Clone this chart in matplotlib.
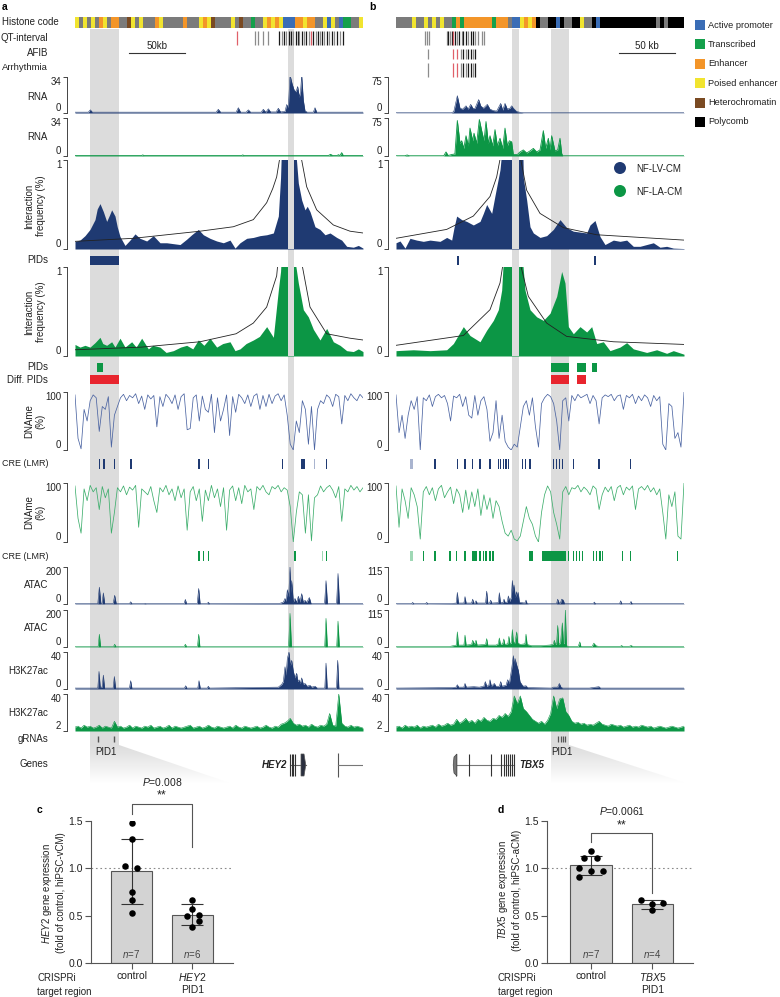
import numpy as np
import matplotlib
matplotlib.use("Agg")
import matplotlib.pyplot as plt
from matplotlib.patches import Polygon, Rectangle, Circle

plt.rcParams['font.family'] = ['Liberation Sans', 'DejaVu Sans']
plt.rcParams['mathtext.fontset'] = 'custom'
plt.rcParams['mathtext.it'] = 'Liberation Sans:italic'
plt.rcParams['mathtext.bf'] = 'Liberation Sans:bold:italic'
plt.rcParams['mathtext.rm'] = 'Liberation Sans'
plt.rcParams['font.size'] = 7

# ----------------------------------------------------------------- DATA
SPAN = 259.2   # kb shown per locus

HIST_L = "YgYgYgOYgO" "OggHYgYggg" "OYgggggOgg" "gYOYHggggY" "gHggTggYOY" "OYPPPOOYOO" "ggYPYgPTTggY"
HIST_R = "ggggYggYgY" "gYggTOTOOO" "OOOOTOOOgP" "PYOYOkggkk" "PkggkkYggk" "Pkkkkkkkkk" "kkkkkgkgkkkk"
STATE_NAMES = ['Active promoter', 'Transcribed', 'Enhancer', 'Poised enhancer', 'Heterochromatin', 'Polycomb']
STATE_KEYS = ['P', 'T', 'O', 'Y', 'H', 'k']

QT_L = [(145.8, 'r'), (162, 'g'), (165, 'g'), (169.5, 'g'), (173.4, 'g'), (183.9, 'k'), (186, 'g'), (188.1, 'k'),
        (189.9, 'g'), (192.3, 'k'), (194.1, 'k'), (196.5, 'g'), (198.6, 'k'), (200.4, 'k'), (201.9, 'g'), (204, 'k'),
        (206.1, 'g'), (207.9, 'k'), (210.3, 'g'), (212.4, 'r'), (214.5, 'k'), (216.6, 'g'), (218.4, 'k'), (220.5, 'g'),
        (222.6, 'k'), (224.4, 'g'), (226.5, 'k'), (228.9, 'g'), (231, 'k'), (233.4, 'g'), (235.5, 'k'), (238.5, 'g'),
        (240.9, 'k')]
QT_R = [(26.1, 'g'), (27.6, 'g'), (29.4, 'g'), (45.6, 'g'), (47.1, 'k'), (48.6, 'g'), (50.1, 'k'), (51.6, 'r'),
        (53.1, 'k'), (55.2, 'g'), (57, 'k'), (59.1, 'g'), (60.6, 'k'), (63, 'k'), (65.1, 'g'), (67.2, 'k'),
        (69.6, 'k'), (71.1, 'g'), (74.1, 'g'), (77.1, 'g'), (79.2, 'g')]
AFIB_R = [(28.5, 'g'), (51.6, 'r'), (55.2, 'r'), (58.5, 'g'), (60.6, 'k'), (63, 'g'), (65.1, 'k'), (67.2, 'k'),
          (69.6, 'g'), (71.1, 'k')]
ARR_R = [(28.5, 'g'), (51.6, 'r'), (55.2, 'r'), (58.5, 'g'), (60.6, 'k'), (63, 'g'), (65.1, 'k'), (67.2, 'k'),
         (69.6, 'g'), (71.1, 'k')]

# highlighted regions (kb)
PID1_L = (13.5, 39.6)
VIEW_L = (191.7, 196.8)
PID1_R = (139.5, 155.7)
VIEW_R = (104.4, 110.7)

RNA_LV_L = [(0, .8), (12, .8), (13.8, 3), (15.6, .8), (127, .8), (129, 3.5), (131, .8), (145, .8), (147, 5), (149, .8),
            (154, .8), (156, 3), (158, .8), (167.5, .8), (169.5, 3.5), (171.5, 1), (172, 1), (174, 4), (176, 1),
            (181, 1), (183, 4.5), (185, 1), (189, 1.5), (190.5, 8), (192, 5), (193.5, 36), (195.3, 28), (197.1, 22),
            (198.9, 20), (200.4, 25), (201.9, 15), (203, 20), (204, 36), (205.5, 12), (207, 2), (209, .8),
            (214.5, .8), (216, 5), (217.5, .8), (259.2, .8)]
RNA_LA_L = [(0, .4), (60, .4), (61, 1), (62, .4), (150, .4), (151, 1), (152, .4), (228, .4), (230, 1.5), (232, .4),
            (236, .4), (237, 1.2), (238.5, .4), (240, 3), (241.5, .4), (259.2, .4)]
RNA_LV_R = [(0, .5), (50, .5), (52, 3), (55.2, 36), (57.6, 10), (60, 8), (63, 15), (65, 8), (67.2, 18), (69.5, 9),
            (71.1, 10), (74.4, 28), (76.2, 15), (78.6, 10), (82.2, 18), (84.6, 8), (87.6, 5), (90.6, 4), (94.2, 20),
            (96, 6), (98.1, 20), (100.2, 8), (102.5, 10), (104.1, 15), (105.6, 10), (108.6, 3), (111.6, 1.5),
            (114.6, .5), (259.2, .5)]
RNA_LA_R = [(0, .5), (8, .5), (10, 2), (12, .5), (43, .5), (45, 8), (47, 1), (50.1, 3), (53, 4), (55.2, 70),
            (57.6, 25), (59.1, 30), (61, 15), (63, 40), (65.1, 20), (66.6, 55), (69, 30), (70.2, 45), (72.6, 25),
            (75, 72), (77.1, 50), (79.2, 30), (81, 68), (83.1, 25), (84.6, 40), (87, 20), (89.1, 52), (91.2, 20),
            (93.6, 35), (96, 15), (98.1, 55), (100.2, 20), (102, 30), (104.1, 28), (105.6, 3), (109.2, 3),
            (111.6, 8), (114.6, 12), (117.6, 6), (120.6, 10), (123.6, 15), (126.6, 8), (129.6, 12), (132.6, 50),
            (134.7, 15), (137.1, 35), (138.6, 12), (140.1, 40), (143.1, 10), (145.5, 12), (147.6, 35), (149.1, 5),
            (150, .5), (259.2, .5)]

INT_LV_L = [(0, .086), (4.5, .10), (9, .15), (13.5, .22), (18, .33), (20, .45), (22.5, .51), (25.5, .42), (28.5, .31),
            (31, .38), (33, .44), (36, .37), (38, .25), (40.5, .14), (45, .04), (49.5, .10), (54, .17), (58.5, .12),
            (64.5, .09), (70.5, .15), (76.5, .07), (82.5, .07), (88.5, .06), (94.5, .05), (100.5, .11), (105, .16),
            (111, .22), (115.5, .16), (121.5, .12), (127.5, .09), (133.5, .07), (139.5, .10), (144, .01),
            (148.5, .07), (154.5, .12), (160.5, .13), (166.5, .15), (172.5, .16), (178.5, .18), (183, .37),
            (185, .8), (186, 1.2), (198, 1.2), (201, .74), (204, .55), (207, .44), (209, .48), (211.5, .42),
            (216, .25), (220.5, .22), (225, .16), (229.5, .18), (235.5, .13), (240, .10), (244.5, .03),
            (250.5, .02), (255, .04), (259.2, .01)]
EXP_LV_L = [(0, .086), (52.5, .12), (112.5, .2), (142.5, .25), (160.5, .33), (172.5, .52), (178, .68), (181.5, .81),
            (184, 1.0), (185.5, 1.3), (np.nan, np.nan), (201, 1.3), (204, 1.0), (208.5, .7), (217.5, .44),
            (232.5, .27), (247.5, .2), (259.2, .18)]
INT_LA_L = [(0, .13), (4.5, .10), (9, .12), (13.5, .10), (18, .15), (22.5, .21), (25, .14), (28.5, .12), (33, .16),
            (36, .1), (40.5, .20), (45, .10), (51, .16), (55, .1), (60, .20), (66, .08), (70, .12), (76.5, .10),
            (82, .04), (88.5, .06), (95, .1), (100.5, .12), (106, .08), (111, .18), (116, .12), (121.5, .20),
            (127.5, .10), (133, .14), (139.5, .16), (144, .06), (148.5, .08), (154, .14), (160.5, .18), (166, .22),
            (172.5, .33), (178.5, .21), (183, .74), (185, .95), (186, 1.2), (196.5, 1.2), (201, .82), (205.5, .52),
            (210, .44), (214.5, .30), (220.5, .18), (226.5, .31), (232.5, .16), (238.5, .12), (244.5, .06),
            (250.5, .05), (255, .08), (259.2, .05)]
EXP_LA_L = [(0, .07), (60, .1), (112.5, .16), (145, .25), (160.5, .37), (172.5, .55), (181.5, .9), (184.5, 1.3),
            (np.nan, np.nan), (201.5, 1.3), (204, 1.05), (211.5, .55), (226.5, .25), (247.5, .2), (259.2, .18)]
INT_LV_R = [(0, .07), (3.6, .09), (8.1, .01), (12.6, .12), (18.6, .10), (24.6, .086), (30.6, .10), (39.6, .086),
            (45.6, .13), (50.1, .10), (52.2, .24), (54.6, .37), (59.1, .33), (63.6, .31), (69.6, .27), (75.6, .31),
            (78.6, .40), (81.6, .50), (86.1, .40), (89.1, .60), (93.6, .89), (96, 1.2), (114, 1.2), (114.6, .80),
            (117.6, .55), (120.6, .25), (123.6, .18), (129.6, .13), (135.6, .15), (141.6, .22), (147.6, .33),
            (153.6, .24), (159.6, .20), (165.6, .19), (171.6, .18), (174.6, .27), (179.1, .32), (183.6, .14),
            (188.1, .05), (195.6, .10), (201.6, .086), (207.6, .10), (213.6, .03), (219.6, .03), (225.6, .05),
            (231.6, .07), (237.6, .02), (243.6, .03), (249.6, .01), (259.2, .005)]
EXP_LV_R = [(0, .12), (45.6, .22), (69.6, .37), (84.6, .59), (90.6, .81), (93.5, 1.0), (95, 1.3), (np.nan, np.nan),
            (110, 1.3), (111.6, 1.05), (117.6, .66), (129.6, .4), (150.6, .24), (180.6, .16), (259.2, .1)]
INT_LA_R = [(0, .06), (15.6, .07), (30.6, .06), (45.6, .07), (51.6, .14), (60.6, .33), (66.6, .23), (75.6, .16),
            (81.6, .29), (87.6, .40), (92.1, .52), (95.1, .74), (97.2, 1.2), (113, 1.2), (116.1, .74), (120.6, .52),
            (126.6, .44), (132.6, .40), (138.6, .48), (144.6, .67), (149.1, .95), (152.1, .82), (155.1, .33),
            (159.6, .25), (165.6, .33), (171.6, .27), (176.1, .33), (180.6, .14), (186.6, .16), (192.6, .06),
            (201.6, .10), (207.6, .15), (213.6, .08), (225.6, .04), (234.6, .07), (243.6, .03), (249.6, .06),
            (259.2, .02)]
EXP_LA_R = [(0, .12), (60.6, .23), (84.6, .52), (93.6, .82), (96.5, 1.05), (98, 1.3), (np.nan, np.nan), (110, 1.3),
            (111.6, 1.05), (119.1, .67), (135.6, .37), (153.6, .22), (195.6, .16), (259.2, .13)]

PID_LV_L = [(13.5, 26.1)]
PID_LA_L = [(19.8, 5.4)]
DIFF_L = [(13.5, 26.1)]
PID_LV_R = [(54.9, 1.4), (178, 2.2)]
PID_LA_R = [(139.5, 16.5), (163, 8), (176.4, 4.6)]
DIFF_R = [(139.5, 16.5), (163, 8)]

DNAME_LV_L = [95, 20, 2, 70, 50, 85, 95, 90, 32, 75, 70, 92, 5, 60, 75, 90, 96, 85, 94, 90, 97, 80, 93, 70, 95, 88, 94,
              40, 92, 75, 96, 90, 80, 95, 70, 92, 97, 35, 37, 90, 95, 50, 93, 70, 65, 96, 30, 90, 50, 70, 95, 25, 92,
              65, 96, 90, 80, 95, 75, 93, 97, 70, 94, 75, 96, 80, 93, 97, 85, 95, 60, 10, 0, 50, 30, 85, 70, 10, 75,
              0, 70, 85, 80, 95, 90, 75, 96, 92, 45, 94, 85, 97, 90, 85, 96, 90]
DNAME_LA_L = [95, 40, 15, 90, 70, 96, 85, 92, 55, 94, 75, 90, 15, 50, 92, 85, 95, 80, 93, 88, 96, 25, 90, 85, 80, 94,
              70, 50, 92, 85, 96, 80, 90, 70, 95, 75, 90, 20, 85, 94, 70, 90, 35, 88, 70, 96, 75, 90, 60, 92, 20, 88,
              95, 70, 92, 65, 96, 85, 90, 55, 94, 88, 96, 85, 80, 94, 90, 96, 85, 92, 88, 60, 0, 50, 85, 80, 15, 80,
              2, 75, 80, 95, 85, 92, 96, 88, 75, 94, 35, 90, 85, 96, 88, 94, 85, 92]
DNAME_LV_R = [95, 30, 60, 20, 60, 85, 70, 92, 0, 90, 85, 95, 75, 92, 96, 90, 94, 80, 50, 93, 90, 96, 75, 92, 60, 55,
              94, 60, 85, 92, 70, 15, 30, 85, 20, 60, 15, 5, 0, 10, 5, 40, 75, 85, 60, 90, 40, 5, 80, 90, 96, 92, 80,
              50, 0, 85, 90, 50, 94, 85, 96, 90, 93, 96, 80, 94, 85, 45, 90, 95, 92, 96, 85, 93, 95, 70, 94, 90, 96,
              80, 93, 85, 95, 90, 75, 94, 85, 92, 10, 0, 80, 75, 20, 30, 5, 100]
DNAME_LA_R = [95, 25, 90, 70, 40, 92, 80, 60, 5, 85, 94, 80, 92, 70, 90, 96, 75, 85, 93, 65, 90, 80, 50, 88, 55, 85,
              60, 90, 45, 80, 55, 75, 40, 70, 60, 35, 15, 10, 20, 5, 2, 10, 35, 60, 40, 30, 10, 0, 50, 80, 95, 85, 50,
              30, 5, 85, 94, 80, 92, 90, 96, 85, 93, 88, 80, 95, 90, 55, 80, 93, 85, 94, 70, 92, 96, 80, 93, 88, 95,
              55, 90, 94, 88, 96, 85, 92, 80, 90, 50, 5, 80, 60, 85, 10, 5, 100]

CRE_LV_L = [(21.9, 1.2), (26.1, 1.2), (35.7, 1.2), (50.4, 1.2), (111.6, 1.2), (120, 1.2), (186.6, 1.2), (204.9, 3.5),
            (226.5, 1.2)]
CRE_LV_L_FAINT = [(215.4, 1.2)]
CRE_LA_L = [(111.6, 1.2), (115.5, 1.2), (120, 1.2), (198, 1.2), (226.5, 1.2)]
CRE_LA_L_FAINT = [(222.6, 1.2)]
CRE_LV_R = [(35.1, 1.2), (55.5, 1.2), (62.1, 2.2), (69, 1.2), (75.6, 1.2), (84.6, 1.2), (92.1, 1.2), (94.2, 1.2),
            (96.6, 1.2), (99, 1.2), (101.1, 1.2), (114, 1.2), (116.7, 1.2), (120.6, 1.2), (141.6, 1.2), (144.6, 1.2),
            (147, 1.2), (150, 1.2), (159.6, 1.2), (182.7, 2.5), (211.2, 1.2)]
CRE_LV_R_FAINT = [(14.1, 3)]
CRE_LA_R = [(24.6, 1.2), (35.1, 1.2), (48.6, 1.2), (54.6, 1.2), (62.1, 2), (70.35, 4.5), (75.6, 1.2), (78.6, 1.2),
            (81, 1.2), (84.6, 1.2), (87, 2), (121.5, 3), (142, 22), (155.1, 1.2), (159.6, 1.2), (162.6, 1.2),
            (165, 1.2), (168, 1.2), (177.6, 1.2), (180.6, 1.2), (183.6, 1.2), (186, 1.2), (204, 1.2), (211.2, 1.2),
            (253.2, 1.2)]
CRE_LA_R_FAINT = [(14.1, 3)]

ATAC_LV_L = [(0, 2), (20.5, 2), (21.9, 91), (23.3, 2), (24.3, 2), (25.5, 60), (26.7, 2), (34.3, 2), (35.7, 47),
             (37.1, 2), (49, 2), (50.1, 12), (51.2, 2), (62, 2), (63, 4), (64, 2), (98.2, 2), (99.3, 25), (100.4, 2),
             (110, 2), (111.3, 84), (112.6, 2), (119, 2), (120, 10), (121, 2), (184, 3), (187.5, 10), (189, 30),
             (190, 15), (191.1, 77), (192.3, 40), (193.5, 200), (194.5, 60), (195, 126), (196.5, 10), (198, 30),
             (199.5, 8), (201, 42), (202.5, 10), (204, 56), (205.5, 8), (207, 20), (208.5, 8), (210.9, 35),
             (212.5, 2), (224.6, 2), (225.9, 126), (227.2, 2), (235.4, 2), (236.7, 165), (238, 2), (259.2, 2)]
ATAC_LA_L = [(0, 2), (20.8, 2), (21.9, 69), (23, 2), (34.6, 2), (35.7, 15), (36.8, 2), (98.2, 2), (99.3, 15),
             (100.4, 2), (110.2, 2), (111.3, 69), (112.4, 2), (192.2, 2), (193.5, 182), (194.8, 2), (224.7, 2),
             (225.9, 155), (227.1, 2), (235.5, 2), (236.7, 140), (237.9, 2), (259.2, 2)]
ATAC_LV_R = [(0, 1), (14, 1), (15, 5), (16, 1), (26.6, 1), (27.6, 5), (28.6, 1), (50, 1.5), (54.2, 3), (55.2, 36),
             (56.2, 3), (61.1, 3), (62.1, 23), (63.1, 3), (68, 3), (69, 15), (70, 3), (71, 3), (72, 10), (73, 3),
             (80.6, 3), (81.6, 40), (82.6, 3), (84.2, 3), (85.2, 12), (86.2, 3), (92, 4), (93, 35), (94, 4), (96.2, 4),
             (97.2, 15), (98.2, 5), (100.1, 6), (101.1, 25), (102.4, 8), (103.7, 20), (104.7, 73), (105.5, 40),
             (106.2, 59), (107.4, 20), (108.6, 38), (109.3, 20), (110, 36), (111, 5), (116, 3), (117, 12),
             (118, 1.5), (120, 1), (144.5, 1), (145.5, 15), (146.8, 3), (148, 3), (149.1, 15), (150.6, 12),
             (151.6, 1), (177.5, 1), (178.5, 6), (179.5, 1), (201.2, 1), (202.2, 10), (203.2, 1), (210.5, 1),
             (211.5, 8), (212.5, 1), (259.2, 1)]
ATAC_LA_R = [(0, 1.5), (48, 1.5), (54.2, 6), (55.2, 47), (56.2, 6), (61.1, 6), (62.1, 37), (63.1, 6), (68, 8),
             (69, 21), (70.5, 8), (72, 21), (73, 6), (80.6, 8), (81.6, 26), (82.6, 6), (90, 6), (92, 10), (93, 28),
             (94, 8), (96, 10), (97, 25), (98, 8), (100.6, 10), (101.6, 33), (102.6, 10), (103.7, 12), (104.7, 54),
             (105.6, 15), (107, 12), (108.6, 47), (109.6, 12), (112, 8), (116, 10), (117, 40), (118, 8), (122, 4),
             (130, 4), (138, 6), (141.5, 8), (142.5, 21), (143.5, 8), (144.5, 10), (145.5, 67), (146.5, 8), (148, 12),
             (149.7, 75), (150.7, 10), (151.6, 12), (152.4, 115), (153.4, 4), (155, 2), (164, 2), (165.4, 16),
             (166.4, 2), (176.5, 2), (178, 12), (180, 4), (182, 2), (202, 2), (203, 5), (204, 2), (210, 2),
             (211.5, 5), (213, 2), (259.2, 1.5)]

K27_LV_L = [(0, 1), (20.5, 1), (21.6, 19), (22.7, 2), (24.4, 2), (25.5, 15), (26.6, 1), (34.3, 1), (35.4, 13.5),
            (36.5, 1), (49, 1), (50.1, 9), (51.2, 1), (98.5, 1), (99.6, 3.5), (100.7, 1), (110.5, 1), (111.6, 9),
            (112.7, 1), (119, 1), (120, 3), (121, 1), (183, 2), (186, 5), (187.5, 8), (189, 24), (190, 15),
            (191.1, 33), (192.6, 40), (193.8, 25), (195, 31), (196.5, 19), (198, 12), (199.5, 17), (200.5, 8),
            (201.6, 10), (202.8, 6), (204, 12), (205.5, 5), (207, 6), (209, 3), (211.5, 4), (213, 2), (216, 3),
            (218, 1), (224.8, 1), (225.9, 28), (227, 1), (235.3, 1), (236.4, 31), (237.5, 1), (259.2, 1)]
K27_LV_R = [(0, 1), (50, 1.5), (54, 2), (55.2, 4.6), (56.4, 2), (61, 2), (62.1, 6), (63.3, 2), (70, 2.5), (75, 2),
            (79, 3), (80.4, 8), (81.6, 3), (83.5, 4), (84.6, 10), (85.8, 3), (88.5, 6), (90, 3), (93, 3), (94.2, 8),
            (95.4, 3), (99, 4), (100.5, 10), (102, 6), (104.1, 22), (105.6, 36), (106.5, 25), (107.1, 33),
            (108.6, 26), (110.1, 20), (111.6, 8), (113.1, 5), (114.6, 3), (117, 3.5), (118.5, 1.5), (140, 1),
            (141.6, 2), (145.5, 2), (147, 6), (148.5, 2), (150, 1), (174, 1), (182.7, 2.5), (184, 1), (259.2, 1)]
K27_LA_L = [6, 7, 5, 8, 6, 7, 5, 6, 8, 5, 7, 6, 5, 12, 6, 7, 5, 6, 8, 5, 7, 6, 5, 7, 6, 8, 5, 6, 7, 5, 6, 8, 5, 7, 6,
            5, 6, 7, 8, 5, 6, 7, 5, 6, 8, 6, 5, 7, 6, 5, 6, 7, 5, 8, 6, 5, 7, 6, 5, 6, 7, 5, 6, 8, 6, 5, 7, 6, 9, 10,
            12, 15, 10, 8, 9, 7, 8, 6, 9, 7, 6, 8, 7, 9, 20, 8, 7, 40, 10, 7, 6, 8, 6, 7, 6, 5]
K27_LA_R = [6, 7, 5, 8, 6, 7, 6, 8, 5, 7, 6, 7, 8, 6, 9, 7, 8, 10, 8, 9, 14, 10, 12, 15, 11, 13, 10, 14, 12, 16, 13,
            12, 15, 14, 18, 16, 20, 17, 22, 38, 30, 38, 25, 22, 18, 14, 12, 10, 12, 9, 13, 20, 38, 25, 35, 36, 22,
            18, 12, 10, 11, 9, 10, 8, 9, 8, 10, 12, 9, 8, 7, 9, 8, 7, 8, 6, 7, 8, 6, 7, 6, 8, 7, 6, 7, 5, 6, 7, 6,
            5, 6, 7, 6, 5, 6, 7]

GRNA_L = [20.7, 35.1]
GRNA_R = [145.8, 148.5, 150.3, 152.1]
HEY2_EXONS = [193.5, 194.9, 196.2, 198.0]
HEY2_BLOCK = (203.4, 206.1)
NEXT_GENE_L = 236.7
TBX5_EXONS = [54, 65.7, 85.5, 94.5, 97.2, 99, 100.8, 102.6, 104.4, 106.2]

# CRISPRi bar charts
C_CATS = ['control', '$\\it{HEY2}$\nPID1']
C_MEAN = [0.97, 0.51]
C_LO = [0.62, 0.40]
C_HI = [1.31, 0.62]
C_CTRL_PTS = [1.48, 1.31, 1.02, 1.00, 0.75, 0.67, 0.53]
C_CTRL_DX = [0, 0, -0.10, 0.09, 0, 0, 0]
C_PID_PTS = [0.67, 0.57, 0.50, 0.51, 0.44, 0.38]
C_PID_DX = [0, 0, -0.09, 0.10, 0.10, 0]
D_CATS = ['control', '$\\it{TBX5}$\nPID1']
D_MEAN = [1.03, 0.62]
D_LO = [0.93, 0.57]
D_HI = [1.13, 0.67]
D_CTRL_PTS = [1.18, 1.11, 1.11, 1.005, 0.97, 0.97, 0.907]
D_CTRL_DX = [0, -0.11, 0.10, -0.19, 0, 0.19, -0.19]
D_PID_PTS = [0.67, 0.635, 0.628, 0.558]
D_PID_DX = [-0.19, 0.18, 0, 0]

# ----------------------------------------------------------------- STYLE
BLUE = '#1f3a72'
GREEN = '#0c9645'
BLUE_L = '#4b64a2'
GREEN_L = '#3dae6c'
RED = '#e8252e'
SHADE = '#dcdcdc'
TXT = '#222222'
FS = 7
STATE_COLORS = {'g': '#7b7b7b', 'Y': '#f1e42f', 'O': '#f39529', 'T': '#14a04b', 'P': '#3a6db6',
                'H': '#7a4a22', 'k': '#000000'}
QT_COLORS = {'k': '#1a1a1a', 'g': '#8c8c8c', 'r': '#e06069'}

W, H = 780, 997
fig = plt.figure(figsize=(7.8, 9.97), dpi=100)


def add_ax(x0, y0, x1, y1, z=1):
    ax = fig.add_axes([x0 / W, 1 - y1 / H, (x1 - x0) / W, (y1 - y0) / H])
    ax.set_zorder(z)
    ax.patch.set_visible(False)
    return ax


PANEL_X = {'L': (75, 363), 'R': (396, 684)}

# annotation axes per panel: x in kb, y in pixels
ann = {}
for side in 'LR':
    x0, x1 = PANEL_X[side]
    a = add_ax(x0, 0, x1, H, z=0)
    a.set_xlim(0, SPAN)
    a.set_ylim(H, 0)
    a.axis('off')
    ann[side] = a


def bracket_ax(side, ytop, ybot, lo, hi, labels):
    x0, x1 = PANEL_X[side]
    ax = add_ax(x0, ytop, x1, ybot)
    ax.set_xlim(0, SPAN)
    ax.set_ylim(lo, hi)
    for s in ('top', 'right', 'bottom'):
        ax.spines[s].set_visible(False)
    ax.spines['left'].set_position(('outward', 5.8))
    ax.spines['left'].set_linewidth(0.7)
    ax.spines['left'].set_color('#444444')
    ax.set_xticks([])
    ax.set_yticks([lo, hi])
    tl = ax.set_yticklabels(labels)
    tl[0].set_va('bottom')
    tl[1].set_va('top')
    ax.tick_params(axis='y', length=3, width=0.7, color='#444444', pad=1, labelsize=FS, labelcolor=TXT)
    return ax


def profile(ax, pairs, color, base=0, lw=0.4):
    x, y = zip(*pairs)
    ax.fill_between(x, base, y, color=color, lw=0)
    ax.plot(x, y, color=color, lw=lw)


# ---- shaded highlight columns + funnel gradients
grad = np.zeros((100, 1, 4))
grad[..., :3] = 0.86
grad[:, 0, 3] = np.linspace(1, 0, 100)
for side, pid, view, fx in (('L', PID1_L, VIEW_L, 139.5), ('R', PID1_R, VIEW_R, 261)):
    a = ann[side]
    a.add_patch(Rectangle((pid[0], 29), pid[1] - pid[0], 716, color=SHADE, lw=0, zorder=0))
    a.add_patch(Rectangle((view[0], 29), view[1] - view[0], 702, color=SHADE, lw=0, zorder=0))
    poly = Polygon([(pid[0], 745), (pid[1], 745), (fx, 783), (pid[0], 783)], closed=True,
                   transform=a.transData, facecolor='none', edgecolor='none')
    a.add_patch(poly)
    im = a.imshow(grad, extent=(pid[0], fx, 783, 745), origin='upper', aspect='auto', zorder=0)
    im.set_clip_path(poly)
    a.set_xlim(0, SPAN)
    a.set_ylim(H, 0)

# ---- histone code
for side, hs in (('L', HIST_L), ('R', HIST_R)):
    seg = SPAN / len(hs)
    xs = np.arange(len(hs)) * seg
    ann[side].bar(xs, 11, bottom=17, width=seg, align='edge', color=[STATE_COLORS[c] for c in hs], lw=0)


# ---- GWAS tracks
def marks(a, items, y0, y1):
    for x, c in items:
        a.vlines(x, y0, y1, color=QT_COLORS[c], lw=0.9)


marks(ann['L'], QT_L, 31, 45)
marks(ann['R'], QT_R, 31, 45)
marks(ann['R'], AFIB_R, 49, 59)
marks(ann['R'], ARR_R, 63, 77)

# scale bars
ann['L'].plot([48.6, 98.6], [53, 53], color='#333333', lw=0.8)
ann['L'].text(73.6, 46, '50kb', ha='center', va='center', fontsize=FS, color=TXT)
ann['R'].plot([200.7, 250.7], [53, 53], color='#333333', lw=0.8)
ann['R'].text(225.7, 46, '50 kb', ha='center', va='center', fontsize=FS, color=TXT)

# ---- RNA
for side, lv, la, top in (('L', RNA_LV_L, RNA_LA_L, 34), ('R', RNA_LV_R, RNA_LA_R, 75)):
    ax = bracket_ax(side, 77, 113, 0, top, [str(0), str(top)])
    profile(ax, lv, BLUE)
    ax = bracket_ax(side, 118, 156, 0, top, [str(0), str(top)])
    profile(ax, la, GREEN, lw=0.6)

# ---- interaction frequency
for side, lv, elv, la, ela, view in (('L', INT_LV_L, EXP_LV_L, INT_LA_L, EXP_LA_L, VIEW_L),
                                     ('R', INT_LV_R, EXP_LV_R, INT_LA_R, EXP_LA_R, VIEW_R)):
    for (yt, yb, data, exp, col) in ((160, 249, lv, elv, BLUE), (267, 356, la, ela, GREEN)):
        ax = bracket_ax(side, yt, yb, 0, 1, ['0', '1'])
        x, y = zip(*data)
        ax.fill_between(x, 0, y, color=col, lw=0)
        ex, ey = zip(*exp)
        ax.plot(ex, ey, color='#222222', lw=0.6, zorder=3)
        ax.axvspan(view[0], view[1], color=SHADE, lw=0, zorder=4)

# PIDs
for side, lv, la, df in (('L', PID_LV_L, PID_LA_L, DIFF_L), ('R', PID_LV_R, PID_LA_R, DIFF_R)):
    a = ann[side]
    for s, w in lv:
        a.bar(s, 9, bottom=256, width=w, align='edge', color=BLUE, lw=0, zorder=2)
    for s, w in la:
        a.bar(s, 9, bottom=363, width=w, align='edge', color=GREEN, lw=0, zorder=2)
    for s, w in df:
        a.bar(s, 9, bottom=375, width=w, align='edge', color=RED, lw=0, zorder=2)

# ---- DNA methylation
for side, lv, la in (('L', DNAME_LV_L, DNAME_LA_L), ('R', DNAME_LV_R, DNAME_LA_R)):
    ax = bracket_ax(side, 392, 450, 0, 100, ['0', '100'])
    ax.plot(np.linspace(0, SPAN, len(lv)), lv, color=BLUE_L, lw=0.55)
    ax = bracket_ax(side, 483, 542, 0, 100, ['0', '100'])
    ax.plot(np.linspace(0, SPAN, len(la)), la, color=GREEN_L, lw=0.55)

# CRE (LMR)
for side, lv, lvf, la, laf in (('L', CRE_LV_L, CRE_LV_L_FAINT, CRE_LA_L, CRE_LA_L_FAINT),
                               ('R', CRE_LV_R, CRE_LV_R_FAINT, CRE_LA_R, CRE_LA_R_FAINT)):
    a = ann[side]
    for c, w in lv:
        a.bar(c, 10, bottom=459, width=w, color=BLUE, lw=0, zorder=2)
    for c, w in lvf:
        a.bar(c, 10, bottom=459, width=w, color='#a9b4cf', lw=0, zorder=2)
    for c, w in la:
        a.bar(c, 10, bottom=551, width=w, color=GREEN, lw=0, zorder=2)
    for c, w in laf:
        a.bar(c, 10, bottom=551, width=w, color='#9fd8b5', lw=0, zorder=2)

# ---- ATAC
for side, lv, la, top in (('L', ATAC_LV_L, ATAC_LA_L, 200), ('R', ATAC_LV_R, ATAC_LA_R, 115)):
    ax = bracket_ax(side, 567, 604, 0, top, ['0', str(top)])
    profile(ax, lv, BLUE)
    ax = bracket_ax(side, 610, 647, 0, top, ['0', str(top)])
    profile(ax, la, GREEN)

# ---- H3K27ac
for side, lv, la in (('L', K27_LV_L, K27_LA_L), ('R', K27_LV_R, K27_LA_R)):
    ax = bracket_ax(side, 652, 689, 0, 40, ['0', '40'])
    profile(ax, lv, BLUE)
    ax = bracket_ax(side, 694, 731, 2, 40, ['2', '40'])
    xs = np.linspace(0, SPAN, len(la))
    ax.fill_between(xs, 2, la, color=GREEN, lw=0)
    ax.plot(xs, la, color=GREEN, lw=0.4)

# ---- gRNAs and genes
ann['L'].vlines(GRNA_L, 736, 742, color='#555555', lw=1)
ann['L'].text(np.mean(GRNA_L), 752, 'PID1', ha='center', va='center', fontsize=FS, color=TXT)
ann['R'].vlines(GRNA_R, 736, 742, color='#555555', lw=0.9)
ann['R'].text(np.mean(GRNA_R), 752, 'PID1', ha='center', va='center', fontsize=FS, color=TXT)

a = ann['L']
a.plot([HEY2_EXONS[0], HEY2_BLOCK[1] + 1.4], [765, 765], color='#666666', lw=0.8, zorder=2)
a.vlines(HEY2_EXONS, 754, 776, color='#333333', lw=0.8, zorder=3)
a.add_patch(Polygon([(HEY2_BLOCK[0], 754), (HEY2_BLOCK[1], 754), (HEY2_BLOCK[1] + 1.6, 765),
                     (HEY2_BLOCK[1], 776), (HEY2_BLOCK[0], 776)], closed=True, facecolor='#2a2f3f',
                    edgecolor='#555555', lw=0.5, zorder=3))
a.text(HEY2_EXONS[0] - 2.5, 765, 'HEY2', ha='right', va='center', fontsize=FS, fontweight='bold',
       fontstyle='italic', color=TXT)
a.vlines(NEXT_GENE_L, 753, 777, color='#555555', lw=0.8)
a.plot([NEXT_GENE_L, SPAN], [765, 765], color='#777777', lw=0.8)

a = ann['R']
a.plot([TBX5_EXONS[0], TBX5_EXONS[-1]], [765, 765], color='#777777', lw=0.8, zorder=2)
a.vlines(TBX5_EXONS, 754, 776, color='#333333', lw=0.8, zorder=3)
a.add_patch(Polygon([(TBX5_EXONS[0] + 0.8, 754), (TBX5_EXONS[0] - 1.8, 757), (TBX5_EXONS[0] - 2.5, 765),
                     (TBX5_EXONS[0] - 1.8, 773), (TBX5_EXONS[0] + 0.8, 776)], closed=True,
                    facecolor='#777777', edgecolor='#444444', lw=0.5, zorder=3))
a.text(TBX5_EXONS[-1] + 4.5, 765, 'TBX5', ha='left', va='center', fontsize=FS, fontweight='bold',
       fontstyle='italic', color=TXT)

# ---- overlay text (pixel coordinates)
ov = add_ax(0, 0, W, H, z=5)
ov.set_xlim(0, W)
ov.set_ylim(H, 0)
ov.axis('off')


def lab(x, y, s, **kw):
    d = dict(ha='right', va='center', fontsize=FS, color=TXT)
    d.update(kw)
    ov.text(x, y, s, **d)


ov.text(2, 7, 'a', fontsize=7.5, fontweight='bold', ha='left', va='center')
ov.text(369, 7, 'b', fontsize=7.5, fontweight='bold', ha='left', va='center')
lab(2, 22, 'Histone code', ha='left')
lab(48, 38, 'QT-interval')
lab(48, 53, 'AFIB')
lab(48, 67, 'Arrhythmia', fontsize=6.8)
lab(48, 97, 'RNA')
lab(48, 137, 'RNA')
lab(35, 206, 'Interaction\nfrequency (%)', ha='center', rotation=90, multialignment='center')
lab(35, 312, 'Interaction\nfrequency (%)', ha='center', rotation=90, multialignment='center')
lab(48, 260, 'PIDs')
lab(48, 367, 'PIDs')
lab(48, 380, 'Diff. PIDs')
lab(35, 421, 'DNAme\n(%)', ha='center', rotation=90, multialignment='center')
lab(35, 512, 'DNAme\n(%)', ha='center', rotation=90, multialignment='center')
lab(48, 463, 'CRE (LMR)', fontsize=6.5)
lab(48, 556, 'CRE (LMR)', fontsize=6.5)
lab(48, 585, 'ATAC')
lab(48, 628, 'ATAC')
lab(48, 671, 'H3K27ac')
lab(48, 713, 'H3K27ac')
lab(48, 739, 'gRNAs')
lab(48, 764, 'Genes')

# histone legend
for i, (nm, key) in enumerate(zip(STATE_NAMES, STATE_KEYS)):
    yc = 25 + i * 19.4
    ov.add_patch(Rectangle((695, yc - 5), 10, 10, color=STATE_COLORS[key], lw=0))
    lab(708, yc, nm, ha='left', fontsize=6.7)

# cell type legend
for yc, col, nm in ((168, BLUE, 'NF-LV-CM'), (191, GREEN, 'NF-LA-CM')):
    ov.add_patch(Circle((620, yc), 6, color=col, lw=0))
    lab(636, yc + 1, nm, ha='left')


# ---- bar charts
def barchart(px, cats, mean, lo, hi, ctrl, cdx, pid, pdx, xl, br, ptxt, ylab, ylab_x, ylab_y, letter_x, letter):
    x0, x1 = px
    ax = add_ax(x0, 821, x1, 963, z=3)
    ax.set_xlim(*xl)
    ax.set_ylim(0, 1.5)
    for s in ('top', 'right'):
        ax.spines[s].set_visible(False)
    for s in ('left', 'bottom'):
        ax.spines[s].set_color('#555555')
        ax.spines[s].set_linewidth(0.8)
    ax.axhline(1.0, color='#8a8a8a', ls=(0, (1.5, 2.5)), lw=0.8, zorder=0)
    ax.bar([0, 1], mean, width=0.67, color='#d3d3d3', edgecolor='#555555', lw=0.8, zorder=1)
    ax.errorbar([0, 1], mean, yerr=[np.subtract(mean, lo), np.subtract(hi, mean)], fmt='none',
                ecolor='#333333', elinewidth=0.8, capsize=8, capthick=0.8, zorder=2)
    ax.scatter(np.add(0, cdx), ctrl, s=22, color='black', zorder=3, lw=0)
    ax.scatter(np.add(1, pdx), pid, s=22, color='black', zorder=3, lw=0)
    ax.set_yticks([0, 0.5, 1.0, 1.5])
    ax.set_yticklabels(['0.0', '0.5', '1.0', '1.5'])
    ax.set_xticks([0, 1])
    ax.set_xticklabels(cats, linespacing=1.25)
    ax.tick_params(axis='both', labelsize=7.5, color='#555555', width=0.8, length=4, labelcolor=TXT, pad=2)
    for i, n in enumerate((len(ctrl), len(pid))):
        ax.text(i, 0.035, '$\\it{n}$=%d' % n, ha='center', va='bottom', fontsize=FS, color='#444444')
    ax.plot([0, 0, 1, 1], br, color='#555555', lw=0.8, clip_on=False)
    ax.text(0.5, br[1] + 0.085, '**', ha='center', va='center', fontsize=9, color=TXT)
    ax.text(0.5, br[1] + 0.23, ptxt, ha='center', va='center', fontsize=7.5, color=TXT)
    ov.text(ylab_x, ylab_y, ylab, rotation=90, ha='center', va='center', multialignment='center',
            fontsize=FS, color=TXT, linespacing=1.3)
    ov.text(letter_x, 810, letter, fontsize=7.5, fontweight='bold', ha='left', va='center')
    ov.text(letter_x, 978, 'CRISPRi', ha='left', va='center', fontsize=FS, color=TXT)
    ov.text(letter_x, 992, 'target region', ha='left', va='center', fontsize=FS, color=TXT)
    return ax


barchart((91, 233), C_CATS, C_MEAN, C_LO, C_HI, C_CTRL_PTS, C_CTRL_DX, C_PID_PTS, C_PID_DX,
         (-0.664, 1.664), [1.574, 1.68, 1.68, 1.225], '$\\it{P}$=0.008',
         '$\\it{HEY2}$ gene expression\n(fold of control, hiPSC-vCM)', 53, 893, 37, 'c')
barchart((547, 693), D_CATS, D_MEAN, D_LO, D_HI, D_CTRL_PTS, D_CTRL_DX, D_PID_PTS, D_PID_DX,
         (-0.715, 1.66), [1.278, 1.373, 1.373, 0.739], '$\\it{P}$=0.0061',
         '$\\it{TBX5}$ gene expression\n(fold of control, hiPSC-aCM)', 509, 890, 498, 'd')

fig.savefig('out.png', dpi=100)
